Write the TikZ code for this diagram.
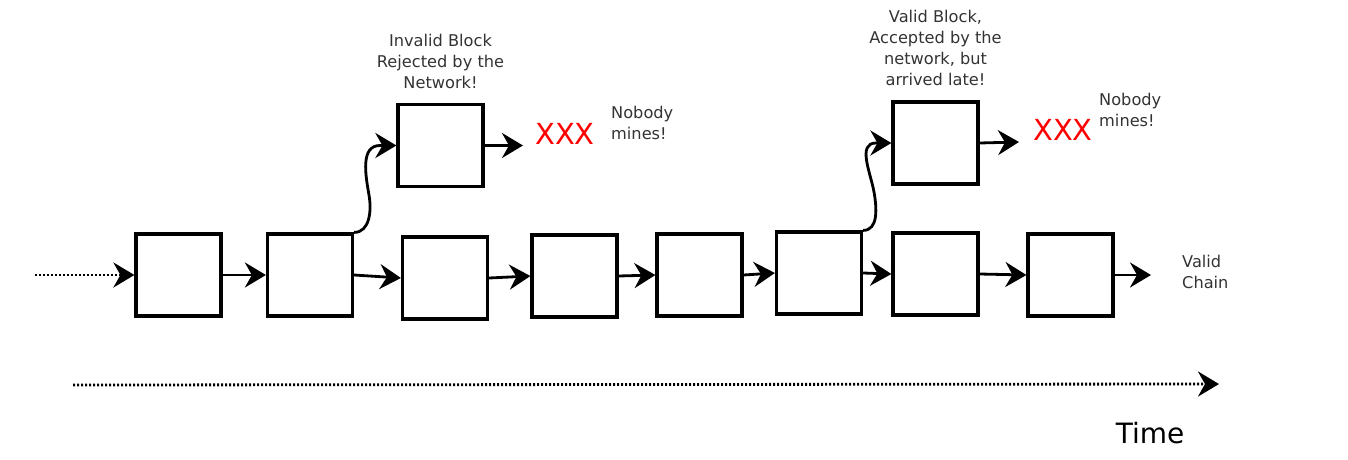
\documentclass[tikz,border=0pt]{standalone}
\usepackage{fontspec}
\setmainfont{DejaVu Sans}
\usepackage{tikz}
\usetikzlibrary{arrows.meta,positioning}
\usepackage{xcolor}
\definecolor{txtgray}{RGB}{51,51,51}
\definecolor{xred}{RGB}{255,0,0}
\tikzstyle{arrow} = [line width=2.8pt,-{Stealth[length=21pt,width=25pt,inset=7pt]}]
\tikzstyle{dotarrow} = [line width=2.8pt,dash pattern=on 2pt off 2pt,-{Stealth[length=21pt,width=25pt,inset=7pt]}]
\tikzstyle{block} = [rectangle, draw, line width=3.2pt, minimum width=85pt, minimum height=82pt, inner sep=0pt]
\tikzstyle{note} = [inner sep=0pt, text=txtgray, font=\fontsize{16.2}{21}\selectfont]
\tikzstyle{xxx} = [inner sep=0pt, text=xred, font=\fontsize{29}{30}\selectfont]

\begin{document}
\begin{tikzpicture}[x=1pt, y=-1pt]
    \useasboundingbox (0,0) rectangle (1348,460);

    % Main chain
    \node[block] (b1) at (178.5, 275) {};
    \node[block] (b2) at (310, 275) {};
    \node[block] (b3) at (445, 278) {};
    \node[block] (b4) at (574.5, 276) {};
    \node[block] (b5) at (699.5, 275) {};
    \node[block] (b6) at (819, 273) {};
    \node[block] (b7) at (935.5, 274) {};
    \node[block] (b8) at (1070.5, 275) {};
    \coordinate (in) at (35, 275);
    \coordinate (out) at (1151, 275);
    \node[note, align=left, anchor=west] (valid) at (1182, 272) {Valid\\Chain};

    % Orphan blocks
    \node[block] (u1) at (440.5, 145.5) {};
    \node[block] (u2) at (935.5, 143) {};
    \node[note, align=center, above=14pt of u1] (lbl1) {Invalid Block\\Rejected by the\\Network!};
    \node[note, align=center, above=14pt of u2] (lbl2) {Valid Block,\\Accepted by the\\network, but\\arrived late!};
    \coordinate (e1) at (523, 145.5);
    \coordinate (e2) at (1019, 142);
    \coordinate (fork1) at (369, 195);
    \coordinate (tip1) at (380, 145.5);
    \coordinate (fork2) at (874, 192);
    \coordinate (tip2) at (876, 143);
    \node[xxx] (x1) at (565, 134) {XXX};
    \node[xxx] (x2) at (1063, 130) {XXX};
    \node[note, align=left, anchor=west] (nm1) at (611, 123) {Nobody\\mines!};
    \node[note, align=left, anchor=west] (nm2) at (1099, 110) {Nobody\\mines!};

    % Time axis
    \coordinate (t0) at (73, 385);
    \coordinate (t1) at (1219, 384);
    \node[inner sep=0pt, font=\fontsize{28}{30}\selectfont] (time) at (1150, 433) {Time};

    % Arrows
    \draw[dotarrow] (in) -- (b1.west);
    \draw[arrow] (b1.east) -- (b2.west);
    \draw[arrow] (b2.east) -- (b3.west);
    \draw[arrow] (b3.east) -- (b4.west);
    \draw[arrow] (b4.east) -- (b5.west);
    \draw[arrow] (b5.east) -- (b6.west);
    \draw[arrow] (b6.east) -- (b7.west);
    \draw[arrow] (b7.east) -- (b8.west);
    \draw[arrow] (b8.east) -- (out);
    \draw[arrow] (b2.north east) to[out=0,in=-80] (fork1) to[out=100,in=180] (tip1) -- (u1.west);
    \draw[arrow] (b6.north east) to[out=0,in=-80] (fork2) to[out=100,in=180] (tip2) -- (u2.west);
    \draw[arrow] (u1.east) -- (e1);
    \draw[arrow] (u2.east) -- (e2);
    \draw[dotarrow] (t0) -- (t1);
\end{tikzpicture}
\end{document}
